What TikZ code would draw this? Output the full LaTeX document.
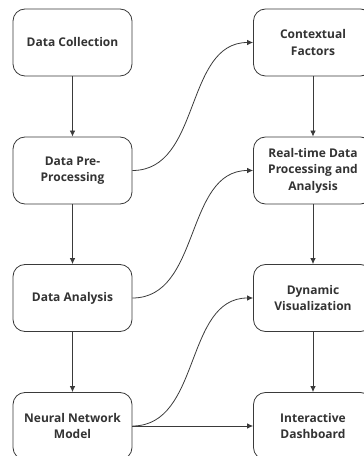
\documentclass[tikz,border=0pt]{standalone}
\usepackage{fontspec}
\setmainfont{Open Sans}
\usepackage{tikz}
\usetikzlibrary{arrows.meta, positioning}

\definecolor{linia}{HTML}{3A3A3A}
\definecolor{tekst}{HTML}{333333}

\begin{document}
\begin{tikzpicture}[x=1pt, y=1pt,
  every node/.style={rectangle, rounded corners=12pt, draw=linia, line width=0.8pt, fill=white,
    minimum width=119pt, minimum height=67pt, align=center, text=tekst,
    font=\fontsize{12}{16.5}\selectfont\bfseries},
  strz/.style={draw=linia, line width=0.8pt, -{Latex[length=6pt, width=5.5pt]}}]

\useasboundingbox (0,0) rectangle (364,456);

% Lewa kolumna
\foreach \i/\y/\txt in {
  1/413.5/Data Collection,
  2/285.5/{Data Pre-\\Processing},
  3/158/Data Analysis,
  4/30/{Neural Network\\Model}} {
  \node (l\i) at (72.5,\y) {\txt};
}

% Prawa kolumna
\foreach \i/\y/\txt in {
  1/413.5/{Contextual\\Factors},
  2/285.5/{Real-time Data\\Processing and\\Analysis},
  3/158/{Dynamic\\Visualization},
  4/30/{Interactive\\Dashboard}} {
  \node (r\i) at (313,\y) {\txt};
}

% Strzałki w dół
\foreach \i in {1,...,3} {
  \pgfmathtruncatemacro{\j}{\i + 1}
  \draw[strz] (l\i) -- (l\j);
  \draw[strz] (r\i) -- (r\j);
}

% Łuki między kolumnami
\foreach \i in {2,...,4} {
  \pgfmathtruncatemacro{\j}{\i - 1}
  \draw[strz] (l\i.east) to[out=0, in=180] (r\j.west);
}
\draw[strz] (l4) -- (r4);
\end{tikzpicture}
\end{document}
